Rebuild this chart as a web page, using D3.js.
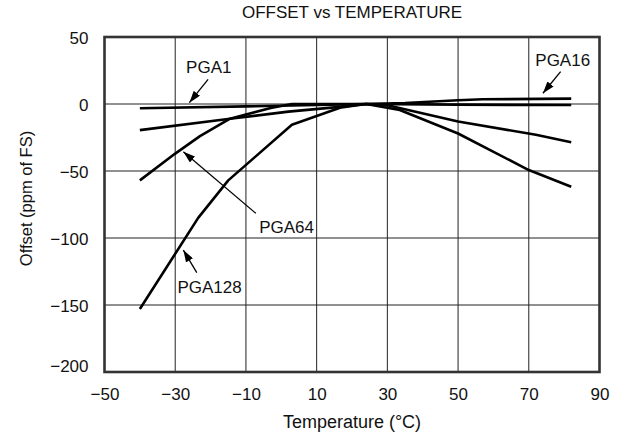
<!DOCTYPE html>
<html>
<head>
<meta charset="utf-8">
<script src="https://cdn.jsdelivr.net/npm/d3@7"></script>
<style>
  html, body { margin: 0; padding: 0; background: #fff; }
  svg { display: block; font-family: "Liberation Sans", Arial, Helvetica, sans-serif; }
</style>
</head>
<body>
<svg id="chart" width="628" height="437"></svg>
<script>
// Offset drift vs temperature for four PGA settings
const title = "OFFSET vs TEMPERATURE";
const xTitle = "Temperature (°C)";
const yTitle = "Offset (ppm of FS)";

const xTicks = [-50, -30, -10, 10, 30, 50, 70, 90];
const yTicks = [50, 0, -50, -100, -150, -200];

// [temperature °C, offset ppm of FS]
const pga1 = [[-40, -3.2], [-10, -1.8], [10, -0.8], [24, 0], [50, -0.5], [82, -0.8]];
const pga16 = [[-40, -19.5], [-14.5, -11], [2, -5.7], [15, -2.5], [24, 0], [35, 0.8], [50, 2.8], [57, 3.5], [82, 4]];
const pga64 = [[-40, -57], [-30, -37], [-23, -24], [-14.5, -11], [-3, -3], [3, 0], [24, 0], [30, -1], [50, -13], [72, -23], [82, -28.6]];
const pga128 = [[-40, -153], [-23.5, -85], [-15, -57], [3, -15.5], [17, -2.5], [24, 0], [33.5, -4.5], [50, -22], [70, -49.3], [82, -61.7]];

const seriesNames = ["PGA1", "PGA16", "PGA64", "PGA128"];
const seriesData = [pga1, pga16, pga64, pga128];

// Callout labels: text anchor point and arrow from -> tip, in data units
const labelNames = ["PGA1", "PGA16", "PGA64", "PGA128"];
const labelAt = [[-20.5, 23.1], [79.6, 28.4], [1.5, -96.0], [-20.3, -140.8]];
const arrowFrom = [[-20.7, 18.4], [79.0, 24.1], [-7.2, -81.6], [-23.9, -125.9]];
const arrowTip = [[-26.0, 1.0], [74.0, 8.0], [-27.7, -35.6], [-27.7, -109.0]];

const W = 628, H = 437;
const margin = { top: 37, right: 28.5, bottom: 65, left: 104.5 };

const svg = d3.select("#chart");

const x = d3.scaleLinear().domain([-50, 90]).range([margin.left, W - margin.right]);
const y = d3.scaleLinear().domain([-200, 50]).range([H - margin.bottom, margin.top]);

const fmt = v => v < 0 ? "\u2212" + Math.abs(v) : String(v);

// grid
const grid = svg.append("g").attr("stroke", "#222").attr("stroke-width", 1).attr("fill", "none");
grid.selectAll("line.vx").data(xTicks.slice(1, -1)).join("line")
  .attr("x1", d => x(d)).attr("x2", d => x(d))
  .attr("y1", y(50)).attr("y2", y(-200));
grid.selectAll("line.hy").data(yTicks.slice(1, -1)).join("line")
  .attr("x1", x(-50)).attr("x2", x(90))
  .attr("y1", d => y(d)).attr("y2", d => y(d));

// axes (labels only; frame drawn separately)
const xAxis = d3.axisBottom(x).tickValues(xTicks).tickSize(0).tickPadding(0).tickFormat(fmt);
const gx = svg.append("g").attr("transform", `translate(0,${y(-200)})`).call(xAxis);
gx.select(".domain").remove();
gx.selectAll("text").attr("fill", "#111").style("font-size", "17px")
  .attr("y", 0).attr("dy", "28px");

const yAxis = d3.axisLeft(y).tickValues(yTicks).tickSize(0).tickPadding(0).tickFormat(fmt);
const gy = svg.append("g").attr("transform", `translate(${x(-50) - 16},0)`).call(yAxis);
gy.select(".domain").remove();
gy.selectAll("text").attr("fill", "#111").style("font-size", "17px")
  .attr("x", 0).attr("dy", d => d === -200 ? "-0.05em" : "0.38em");

// data lines
const line = d3.line().x(d => x(d[0])).y(d => y(d[1]));
svg.append("g").selectAll("path").data(seriesData).join("path")
  .attr("d", line)
  .attr("fill", "none")
  .attr("stroke", "#000")
  .attr("stroke-width", 2.6)
  .attr("stroke-linejoin", "round");

// frame
svg.append("rect")
  .attr("x", x(-50)).attr("y", y(50))
  .attr("width", x(90) - x(-50)).attr("height", y(-200) - y(50))
  .attr("fill", "none").attr("stroke", "#333").attr("stroke-width", 2.6);

// callouts
const defs = svg.append("defs");
defs.append("marker")
  .attr("id", "head").attr("viewBox", "0 0 12 8")
  .attr("refX", 12).attr("refY", 4)
  .attr("markerWidth", 12).attr("markerHeight", 8)
  .attr("markerUnits", "userSpaceOnUse")
  .attr("orient", "auto")
  .append("path").attr("d", "M0,0 L12,4 L0,8 Z").attr("fill", "#000");

const ann = svg.append("g");
ann.selectAll("line").data(labelNames).join("line")
  .attr("x1", (d, i) => x(arrowFrom[i][0])).attr("y1", (d, i) => y(arrowFrom[i][1]))
  .attr("x2", (d, i) => x(arrowTip[i][0])).attr("y2", (d, i) => y(arrowTip[i][1]))
  .attr("stroke", "#000").attr("stroke-width", 1.3)
  .attr("marker-end", "url(#head)");
ann.selectAll("text").data(labelNames).join("text")
  .attr("x", (d, i) => x(labelAt[i][0])).attr("y", (d, i) => y(labelAt[i][1]))
  .attr("text-anchor", "middle").attr("fill", "#111")
  .style("font-size", "17px")
  .text(d => d);

// titles
svg.append("text").attr("x", (x(-50) + x(90)) / 2).attr("y", 18)
  .attr("text-anchor", "middle").attr("fill", "#111").style("font-size", "17px")
  .text(title);
svg.append("text").attr("x", (x(-50) + x(90)) / 2).attr("y", 428)
  .attr("text-anchor", "middle").attr("fill", "#111").style("font-size", "18px")
  .text(xTitle);
svg.append("text")
  .attr("transform", `translate(31.5,${(y(50) + y(-200)) / 2 - 6}) rotate(-90)`)
  .attr("text-anchor", "middle").attr("fill", "#111").style("font-size", "16.5px")
  .text(yTitle);
</script>
</body>
</html>
